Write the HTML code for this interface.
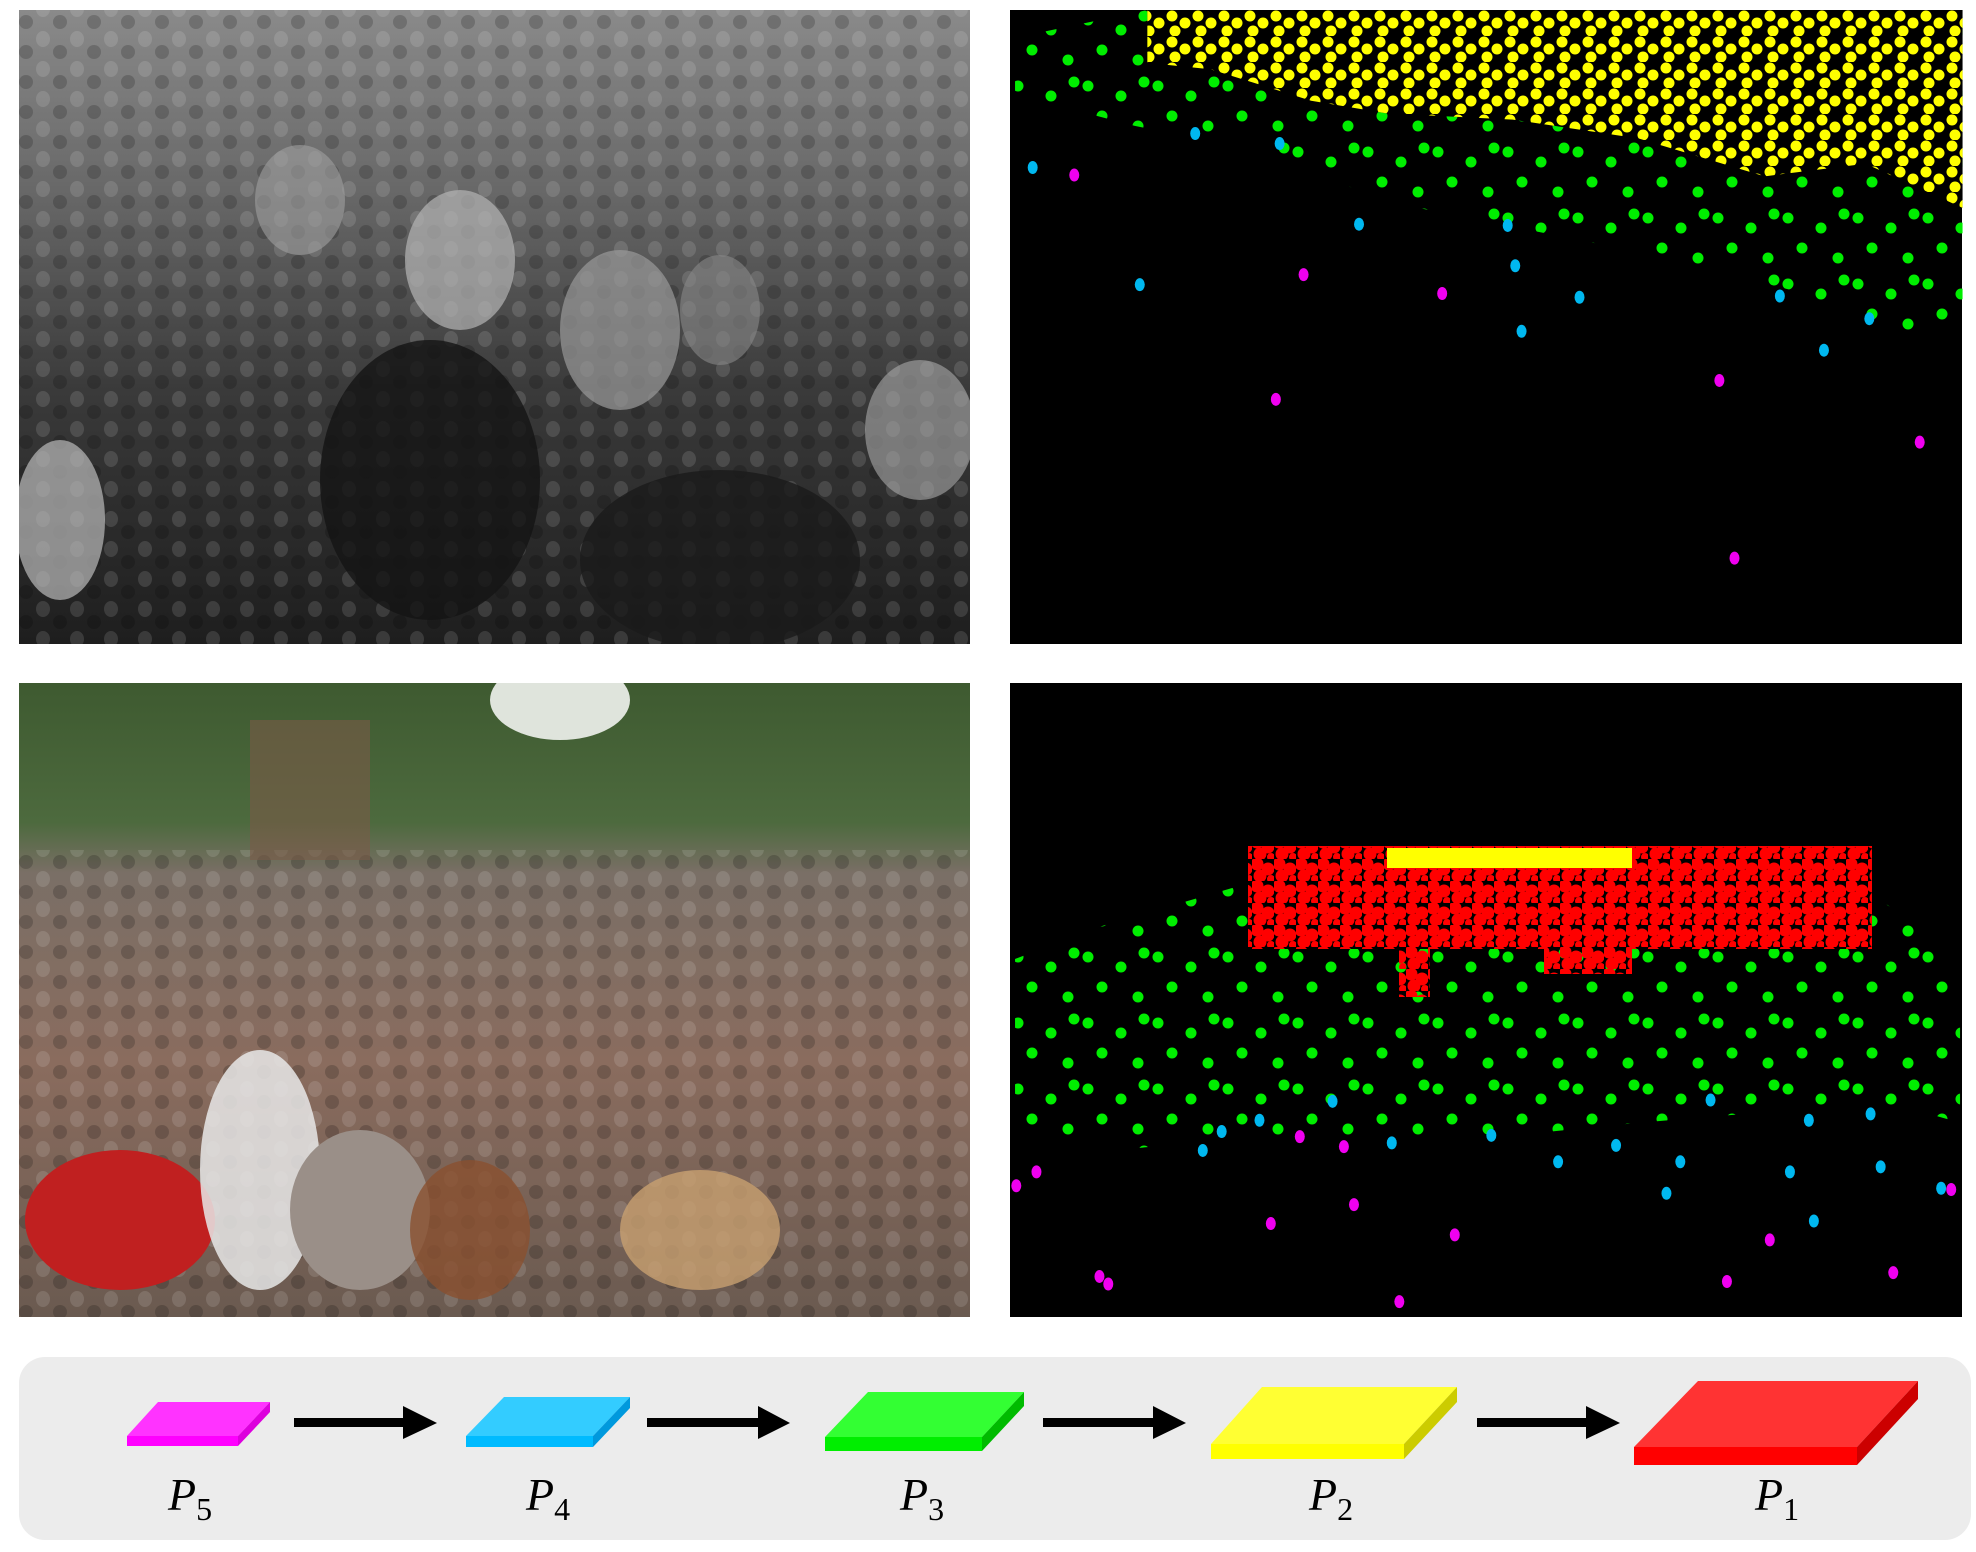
<!DOCTYPE html>
<html><head><meta charset="utf-8"><style>
html,body{margin:0;padding:0;background:#fff;}
body{width:1976px;height:1552px;position:relative;overflow:hidden;font-family:"Liberation Serif",serif;}
svg{position:absolute;left:0;top:0;}
</style></head><body>
<svg id="fig" width="1976" height="1552" viewBox="0 0 1976 1552">
<defs>
<clipPath id="cTL"><rect x="19" y="10" width="951" height="634"/></clipPath>
<clipPath id="cBL"><rect x="19" y="683" width="951" height="634"/></clipPath>
<linearGradient id="gTL" x1="0" y1="0" x2="0" y2="1">
<stop offset="0" stop-color="#8a8a8a"/><stop offset="0.3" stop-color="#666"/><stop offset="0.6" stop-color="#3a3a3a"/><stop offset="1" stop-color="#1e1e1e"/></linearGradient>
<linearGradient id="gBL" x1="0" y1="0" x2="0" y2="1">
<stop offset="0" stop-color="#3e5a30"/><stop offset="0.22" stop-color="#4d6a3e"/><stop offset="0.3" stop-color="#7a6f66"/><stop offset="0.6" stop-color="#8a6c5e"/><stop offset="1" stop-color="#6a5a50"/></linearGradient>
<pattern id="patTex" width="34" height="30" patternUnits="userSpaceOnUse"><ellipse cx="9" cy="9" rx="7" ry="8" fill="#fff" opacity="0.12"/><ellipse cx="26" cy="22" rx="7" ry="7" fill="#000" opacity="0.18"/></pattern>
<pattern id="patY" width="26" height="26" patternUnits="userSpaceOnUse"><circle cx="6" cy="6" r="5.5" fill="#ffff00"/><circle cx="19" cy="13" r="5.5" fill="#ffff00"/><circle cx="9" cy="21" r="5.5" fill="#ffff00"/></pattern>
<pattern id="patG" width="70" height="66" patternUnits="userSpaceOnUse"><circle cx="8" cy="10" r="5.5" fill="#00ee00"/><circle cx="41" cy="20" r="5.5" fill="#00ee00"/><circle cx="22" cy="40" r="5.5" fill="#00ee00"/><circle cx="58" cy="50" r="5.5" fill="#00ee00"/><circle cx="64" cy="6" r="5.5" fill="#00ee00"/></pattern>
<pattern id="patR" width="22" height="22" patternUnits="userSpaceOnUse"><circle cx="5" cy="5" r="6.5" fill="#ff0000"/><circle cx="16" cy="10" r="6.5" fill="#ff0000"/><circle cx="8" cy="17" r="6.5" fill="#ff0000"/><circle cx="19" cy="20" r="4" fill="#ff0000"/></pattern>
</defs>

<g clip-path="url(#cTL)">
<rect x="19" y="10" width="951" height="634" fill="url(#gTL)"/>
<rect x="19" y="10" width="951" height="634" fill="url(#patTex)"/>
<ellipse cx="460" cy="260" rx="55" ry="70" fill="#b5b5b5" opacity="0.7"/>
<ellipse cx="620" cy="330" rx="60" ry="80" fill="#9a9a9a" opacity="0.7"/>
<ellipse cx="300" cy="200" rx="45" ry="55" fill="#a0a0a0" opacity="0.6"/>
<ellipse cx="720" cy="310" rx="40" ry="55" fill="#888" opacity="0.6"/>
<ellipse cx="920" cy="430" rx="55" ry="70" fill="#aaa" opacity="0.6"/>
<ellipse cx="60" cy="520" rx="45" ry="80" fill="#bbb" opacity="0.7"/>
<ellipse cx="430" cy="480" rx="110" ry="140" fill="#141414" opacity="0.8"/>
<ellipse cx="720" cy="560" rx="140" ry="90" fill="#1a1a1a" opacity="0.8"/>
</g>

<g clip-path="url(#cBL)">
<rect x="19" y="683" width="951" height="634" fill="url(#gBL)"/>
<rect x="19" y="850" width="951" height="467" fill="url(#patTex)"/>
<ellipse cx="560" cy="700" rx="70" ry="40" fill="#dfe4dc"/>
<rect x="250" y="720" width="120" height="140" fill="#7a5a48" opacity="0.6"/>
<ellipse cx="120" cy="1220" rx="95" ry="70" fill="#c02020"/>
<ellipse cx="260" cy="1170" rx="60" ry="120" fill="#e8e8e8" opacity="0.85"/>
<ellipse cx="360" cy="1210" rx="70" ry="80" fill="#9a8f88"/>
<ellipse cx="700" cy="1230" rx="80" ry="60" fill="#c8a070" opacity="0.8"/>
<ellipse cx="470" cy="1230" rx="60" ry="70" fill="#8a5030" opacity="0.8"/>
</g>

<g id="tr" transform="translate(1010,10)">
<rect width="952" height="634" fill="#000"/>
<polygon id="trG" fill="url(#patG)"/>
<polygon id="trYb" fill="#000"/>
<polygon id="trY" fill="url(#patY)"/>
</g>

<g id="br" transform="translate(1010,683)">
<rect width="952" height="634" fill="#000"/>
<polygon id="brG" fill="url(#patG)"/>
<rect x="238" y="163" width="624" height="103" fill="#000"/>
<rect x="238" y="163" width="624" height="103" fill="url(#patR)"/>
<rect x="389" y="266" width="31" height="48" fill="url(#patR)"/>
<rect x="534" y="266" width="88" height="25" fill="url(#patR)"/>
<rect x="377" y="165" width="245" height="20" fill="#ffff00"/>
</g>

<g>
<rect x="19" y="1357" width="1952" height="183" rx="26" fill="#ececec"/>
</g>
<g id="legend"></g>
</svg>
<script>
const S = 1.26;
const trYellowPoly = [[109,0],[756,0],[756,157],[679,122],[599,132],[499,102],[399,87],[299,82],[239,72],[159,47],[109,42]];
const trGreenPoly = [[4,22],[109,0],[756,0],[756,262],[699,252],[619,222],[499,192],[399,172],[299,152],[199,112],[99,92],[4,67]];
const trMagentaX = [51,233,343,211,563,722,575];
const trMagentaY = [131,210,225,309,294,343,435];
const trBlueX = [18,147,214,103,277,395,401,452,406,611,646,682];
const trBlueY = [125,98,106,218,170,171,203,228,255,227,270,245];
const brGreenPoly = [[4,219],[69,194],[189,159],[299,144],[499,144],[679,164],[729,199],[754,249],[754,349],[719,339],[619,339],[499,349],[399,359],[299,359],[159,364],[79,371],[4,349]];
const brMagentaX = [5,21,71,78,207,230,265,273,309,353,569,603,701,747];
const brMagentaY = [399,388,471,477,429,360,368,414,491,438,475,442,468,402];
const brBlueX = [168,198,153,256,303,382,435,481,521,532,556,619,634,638,683,691,739];
const brBlueY = [356,347,371,332,365,359,380,367,405,380,331,388,347,427,342,384,401];

function poly(id, pts){
  document.getElementById(id).setAttribute('points', pts.map(p=>(p[0]*S)+','+(p[1]*S)).join(' '));
}
poly('trY', trYellowPoly); poly('trYb', trYellowPoly); poly('trG', trGreenPoly); poly('brG', brGreenPoly);
document.getElementById('trY');
document.getElementById('trY');
document.getElementById('trG');
document.getElementById('trG');
document.getElementById('brG');
document.getElementById('brG');

const NS='http://www.w3.org/2000/svg';
function dots(gid, xs, ys, color, name){
  const g=document.getElementById(gid);
  for(let i=0;i<xs.length;i++){
    const c=document.createElementNS(NS,'ellipse');
    c.setAttribute('cx', xs[i]*S); c.setAttribute('cy', ys[i]*S);
    c.setAttribute('rx', 5); c.setAttribute('ry', 6.5); c.setAttribute('fill', color);
    
    
    g.appendChild(c);
  }
}
dots('tr', trBlueX, trBlueY, '#00b8f0', 'p4-blue-point');
dots('tr', trMagentaX, trMagentaY, '#f000f0', 'p5-magenta-point');
dots('br', brBlueX, brBlueY, '#00b8f0', 'p4-blue-point');
dots('br', brMagentaX, brMagentaY, '#f000f0', 'p5-magenta-point');

const slabNames=['P5','P4','P3','P2','P1'];
const slabSubs=['5','4','3','2','1'];
const slabTop=['#ff33ff','#33ccff','#33ff33','#ffff33','#ff3333'];
const slabFront=['#ff00ff','#00bbff','#00ee00','#ffff00','#ff0000'];
const slabSide=['#dd00dd','#0099dd','#00bb00','#cccc00','#cc0000'];
const slabGeom=[[158,270,127,238,1402,1436,1446],[504,630,466,593,1397,1436,1447],[868,1024,825,982,1392,1437,1451],[1262,1457,1211,1404,1387,1444,1459],[1698,1918,1634,1857,1381,1447,1465]];
const labelX=[168,526,900,1309,1755];
const arrows=[[294,403,437],[647,758,790],[1043,1153,1186],[1477,1586,1620]];
const lg=document.getElementById('legend');
for(let i=0;i<5;i++){
  const [bl,br,fl,fr,ty,ft,by]=slabGeom[i];
  const g=document.createElementNS(NS,'g');
  
  
  const top=document.createElementNS(NS,'polygon');
  top.setAttribute('points',`${bl},${ty} ${br},${ty} ${fr},${ft} ${fl},${ft}`);top.setAttribute('fill',slabTop[i]);
  const fr1=document.createElementNS(NS,'rect');
  fr1.setAttribute('x',fl);fr1.setAttribute('y',ft);fr1.setAttribute('width',fr-fl);fr1.setAttribute('height',by-ft);fr1.setAttribute('fill',slabFront[i]);
  const side=document.createElementNS(NS,'polygon');
  side.setAttribute('points',`${br},${ty} ${br},${ty+(by-ft)} ${fr},${by} ${fr},${ft}`);side.setAttribute('fill',slabSide[i]);
  g.appendChild(top);g.appendChild(fr1);g.appendChild(side);lg.appendChild(g);
  const t=document.createElementNS(NS,'text');
  t.setAttribute('x',labelX[i]);t.setAttribute('y',1510);t.setAttribute('font-size','46');
  t.setAttribute('font-family','"Liberation Serif", serif');t.setAttribute('font-style','italic');
  
  
  t.innerHTML='P<tspan font-style="normal" font-size="32" dy="10">'+slabSubs[i]+'</tspan>';
  lg.appendChild(t);
}
for(let i=0;i<arrows.length;i++){
  const [x0,xh,x1]=arrows[i];
  const a=document.createElementNS(NS,'polygon');
  a.setAttribute('points',`${x0},1418 ${xh},1418 ${xh},1406 ${x1},1423 ${xh},1439 ${xh},1427 ${x0},1427`);
  a.setAttribute('fill','#000');
  
  
  lg.appendChild(a);
}
</script>
</body></html>
